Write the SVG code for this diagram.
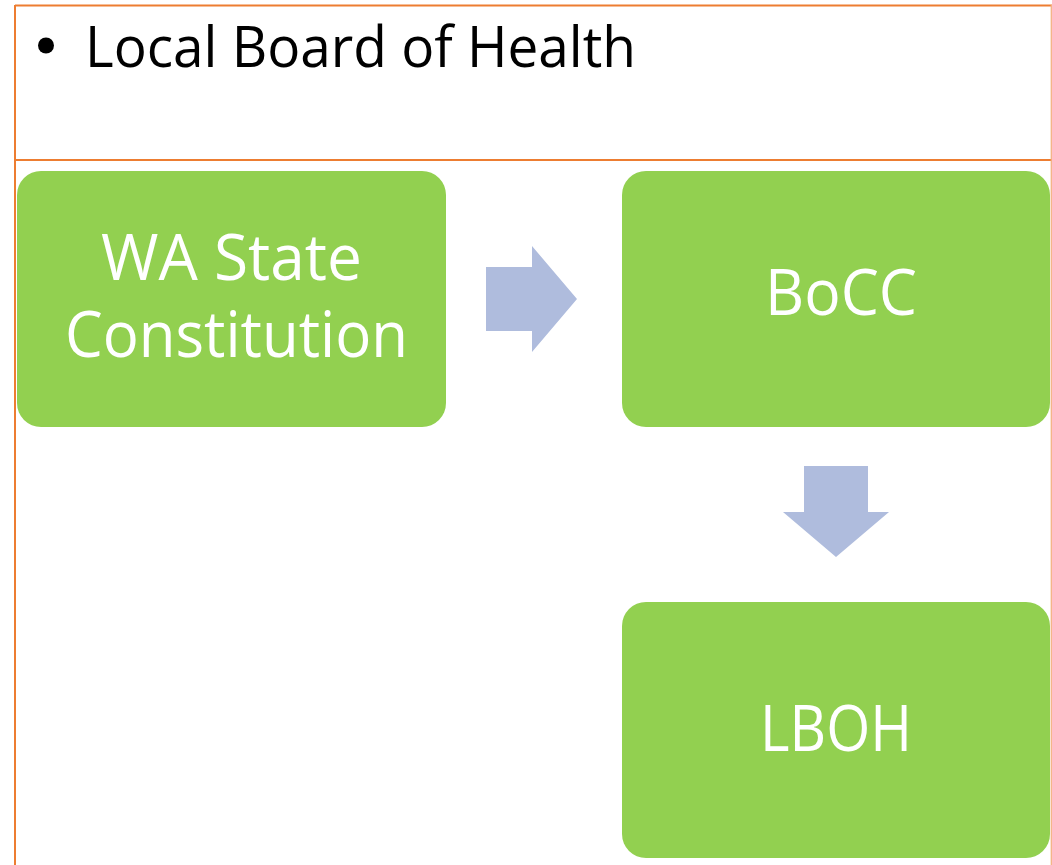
<svg xmlns="http://www.w3.org/2000/svg" width="1052" height="865" viewBox="0 0 1052 865">
<style>
.frame{stroke:#ED7D31;stroke-width:2;fill:none}
.node{fill:#92D050}
.lbl{font-family:"Open Sans","Liberation Sans",sans-serif;fill:#FFFFFF;font-size:64px;text-anchor:middle}
.title{font-family:"Open Sans","Liberation Sans",sans-serif;fill:#000000;font-size:56px}
.arrow{fill:#AFBCDD}
</style>
<rect width="1052" height="865" fill="#FFFFFF"/>
<g id="frame">
<line class="frame" x1="15" y1="5.5" x2="1052" y2="5.5"/>
<line class="frame" x1="15" y1="5" x2="15" y2="865"/>
<line class="frame" x1="15" y1="160" x2="1052" y2="160"/>
<line x1="1051.3" y1="5" x2="1051.3" y2="865" stroke="#F4B183" stroke-width="1.3"/>
</g>
<g id="title">
<circle cx="46" cy="45.5" r="8" fill="#000000"/>
<text class="title" x="85" y="67" textLength="551" lengthAdjust="spacingAndGlyphs">Local Board of Health</text>
</g>
<g id="node-wa">
<rect class="node" x="17" y="171" width="429" height="256" rx="24"/>
<text class="lbl"><tspan x="231.5" y="280" textLength="261" lengthAdjust="spacingAndGlyphs">WA State</tspan><tspan x="236.5" y="357" textLength="343" lengthAdjust="spacingAndGlyphs">Constitution</tspan></text>
</g>
<g id="node-bocc">
<rect class="node" x="622" y="171" width="428" height="256" rx="24"/>
<text class="lbl" x="841" y="315" textLength="152" lengthAdjust="spacingAndGlyphs">BoCC</text>
</g>
<g id="node-lboh">
<rect class="node" x="622" y="602" width="428" height="256" rx="24"/>
<text class="lbl" x="836" y="751" textLength="152" lengthAdjust="spacingAndGlyphs">LBOH</text>
</g>
<g id="connectors">
<polygon class="arrow" points="486,267 532,267 532,246 577,299 532,352 532,331 486,331"/>
<polygon class="arrow" points="804,466 868,466 868,512 889,512 836,557 783,512 804,512"/>
</g>
</svg>
